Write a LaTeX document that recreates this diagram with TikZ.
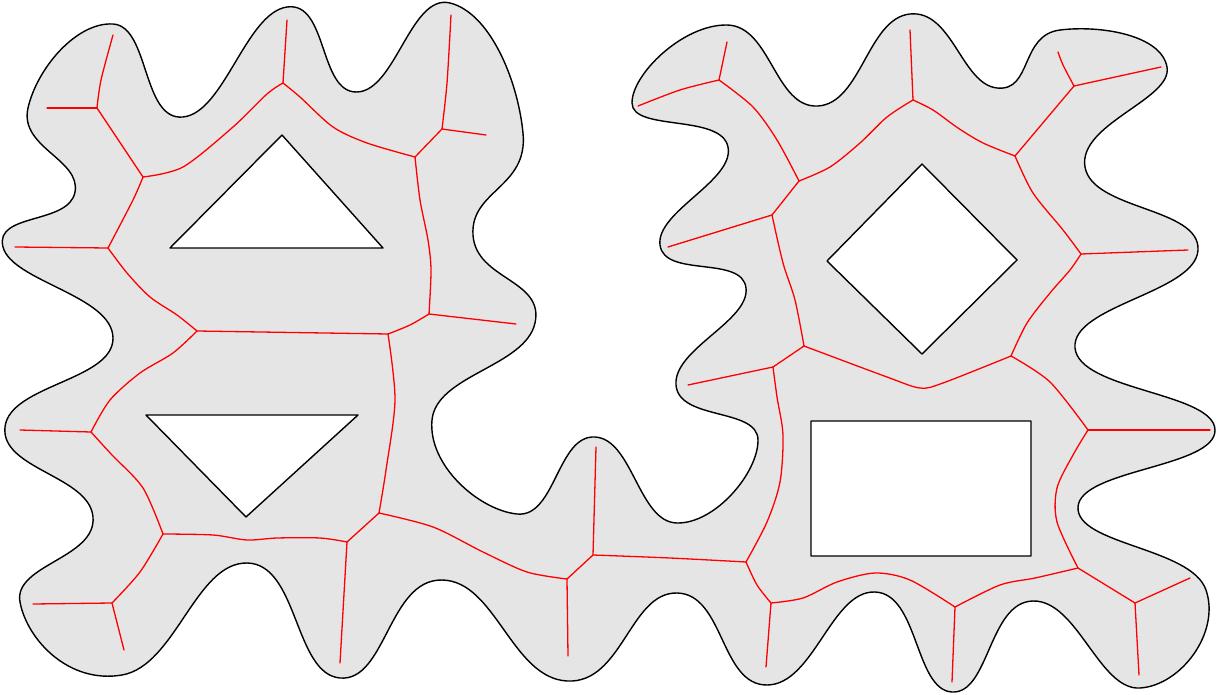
\documentclass[tikz,border=0pt]{standalone}
\usepackage{tikz}
\tikzset{
  region/.style={fill=gray!20, draw=black, line width=1.4pt, even odd rule, line join=round},
  skel/.style={draw=red, line width=1.3pt, line cap=round},
}

\begin{document}
\begin{tikzpicture}[x=1pt, y=-1pt]
  \useasboundingbox (0,0) rectangle (1223,695);

  % region with four holes
  \path[region]
    plot[smooth cycle, tension=0.85] coordinates {
      (28,108) (113,24) (183,117) (287,7) (357,92) (450,3) (523,133)
      (473,235) (535,323) (432,420) (517,514) (595,437) (677,523) (758,440)
      (676,385) (746,288) (660,245) (728,147) (632,103) (727,25) (818,106)
      (910,14) (997,88) (1060,30) (1167,67) (1085,167) (1198,250)
      (1075,348) (1215,430) (1078,507) (1206,590) (1140,688) (1033,601)
      (952,692) (875,592) (767,685) (677,593) (567,681) (442,580) (340,678)
      (247,563) (122,675) (20,602) (93,517) (5,427) (113,338) (3,247)
      (75,192)}
    (170,248) -- (282,135) -- (383,248) -- cycle
    (146,415) -- (358,415) -- (246,517) -- cycle
    (922,164) -- (1017,260) -- (922,354) -- (827,261) -- cycle
    (811,421) rectangle (1031,556);

  % junctions
  \coordinate (j1) at (97,108);
  \coordinate (j2) at (143,177);
  \coordinate (j3) at (283,83);
  \coordinate (j4) at (415,157);
  \coordinate (j5) at (442,129);
  \coordinate (j6) at (429,314);
  \coordinate (j7) at (388,334);
  \coordinate (j8) at (197,331);
  \coordinate (j9) at (108,248);
  \coordinate (j10) at (91,432);
  \coordinate (j11) at (163,534);
  \coordinate (j12) at (112,603);
  \coordinate (j13) at (347,542);
  \coordinate (j14) at (379,513);
  \coordinate (j15) at (567,579);
  \coordinate (j16) at (593,555);
  \coordinate (j17) at (746,562);
  \coordinate (j18) at (771,603);
  \coordinate (j19) at (955,607);
  \coordinate (j20) at (1078,568);
  \coordinate (j21) at (1135,603);
  \coordinate (j22) at (1088,430);
  \coordinate (j23) at (1011,356);
  \coordinate (j24) at (804,346);
  \coordinate (j25) at (1081,254);
  \coordinate (j26) at (1015,156);
  \coordinate (j27) at (1074,86);
  \coordinate (j28) at (913,100);
  \coordinate (j29) at (799,181);
  \coordinate (j30) at (719,80);
  \coordinate (j31) at (772,215);
  \coordinate (j32) at (773,367);

  % free ends
  \coordinate (t1) at (47,108);
  \coordinate (t2) at (113,35);
  \coordinate (t3) at (287,20);
  \coordinate (t4) at (451,15);
  \coordinate (t5) at (486,135);
  \coordinate (t6) at (516,324);
  \coordinate (t7) at (15,247);
  \coordinate (t8) at (20,430);
  \coordinate (t9) at (33,604);
  \coordinate (t10) at (124,650);
  \coordinate (t11) at (340,663);
  \coordinate (t12) at (568,656);
  \coordinate (t13) at (596,447);
  \coordinate (t14) at (766,667);
  \coordinate (t15) at (952,682);
  \coordinate (t16) at (1190,578);
  \coordinate (t17) at (1139,675);
  \coordinate (t18) at (1210,430);
  \coordinate (t19) at (1188,250);
  \coordinate (t20) at (1058,52);
  \coordinate (t21) at (1161,67);
  \coordinate (t22) at (910,30);
  \coordinate (t23) at (727,42);
  \coordinate (t24) at (638,106);
  \coordinate (t25) at (668,247);
  \coordinate (t26) at (688,385);

  % skeleton, left part
  \draw[skel] (j1) -- (t1);
  \draw[skel] plot[smooth] coordinates {(j1) (101,80) (t2)};
  \draw[skel] (j1) -- (j2);
  \draw[skel] plot[smooth] coordinates {(j2) (183,167) (233,127) (267,94) (j3)};
  \draw[skel] (j3) -- (t3);
  \draw[skel] plot[smooth] coordinates {(j3) (300,97) (333,127) (367,143) (j4)};
  \draw[skel] (j4) -- (j5);
  \draw[skel] plot[smooth] coordinates {(j5) (447,83) (t4)};
  \draw[skel] (j5) -- (t5);
  \draw[skel] plot[smooth] coordinates {(j4) (420,200) (428,240) (431,270) (j6)};
  \draw[skel] (j6) -- (t6);
  \draw[skel] plot[smooth] coordinates {(j6) (410,325) (j7)};
  \draw[skel] (j7) -- (j8);
  \draw[skel] plot[smooth] coordinates {(j2) (133,200) (j9)};
  \draw[skel] (j9) -- (t7);
  \draw[skel] plot[smooth] coordinates {(j9) (127,273) (150,297) (177,315) (j8)};
  \draw[skel] plot[smooth] coordinates {(j8) (173,353) (140,373) (110,400) (j10)};
  \draw[skel] (j10) -- (t8);
  \draw[skel] plot[smooth] coordinates {(j10) (112,455) (143,488) (j11)};
  \draw[skel] plot[smooth] coordinates {(j11) (140,572) (j12)};
  \draw[skel] (j12) -- (t9);
  \draw[skel] (j12) -- (t10);
  \draw[skel] plot[smooth] coordinates {(j11) (213,535) (247,540) (277,538) (320,538) (j13)};
  \draw[skel] (j13) -- (t11);
  \draw[skel] (j13) -- (j14);
  \draw[skel] plot[smooth] coordinates {(j14) (386,470) (395,400) (j7)};
  \draw[skel] plot[smooth] coordinates {(j14) (433,527) (483,552) (527,572) (j15)};
  \draw[skel] (j15) -- (t12);
  \draw[skel] (j15) -- (j16);
  \draw[skel] (j16) -- (t13);
  \draw[skel] plot[smooth] coordinates {(j16) (670,558) (j17)};

  % skeleton, right part
  \draw[skel] plot[smooth] coordinates {(j17) (757,585) (j18)};
  \draw[skel] (j18) -- (t14);
  \draw[skel] plot[smooth] coordinates {(j18) (803,598) (837,582) (875,573) (910,580) (j19)};
  \draw[skel] (j19) -- (t15);
  \draw[skel] plot[smooth] coordinates {(j19) (1000,585) (1035,578) (j20)};
  \draw[skel] (j20) -- (j21);
  \draw[skel] (j21) -- (t16);
  \draw[skel] (j21) -- (t17);
  \draw[skel] plot[smooth] coordinates {(j20) (1057,522) (1057,488) (1073,455) (j22)};
  \draw[skel] (j22) -- (t18);
  \draw[skel] plot[smooth] coordinates {(j22) (1050,382) (j23)};
  \draw[skel] plot[smooth] coordinates {(j23) (943,383) (920,388) (887,377) (j24)};
  \draw[skel] plot[smooth] coordinates {(j23) (1027,323) (1050,293) (1070,270) (j25)};
  \draw[skel] (j25) -- (t19);
  \draw[skel] plot[smooth] coordinates {(j25) (1063,230) (1033,193) (j26)};
  \draw[skel] (j26) -- (j27);
  \draw[skel] plot[smooth] coordinates {(j27) (1063,65) (t20)};
  \draw[skel] (j27) -- (t21);
  \draw[skel] plot[smooth] coordinates {(j26) (983,143) (958,128) (933,110) (j28)};
  \draw[skel] (j28) -- (t22);
  \draw[skel] plot[smooth] coordinates {(j28) (887,117) (860,143) (830,167) (j29)};
  \draw[skel] plot[smooth] coordinates {(j29) (777,140) (753,107) (j30)};
  \draw[skel] (j30) -- (t23);
  \draw[skel] plot[smooth] coordinates {(j30) (680,90) (t24)};
  \draw[skel] (j29) -- (j31);
  \draw[skel] (j31) -- (t25);
  \draw[skel] plot[smooth] coordinates {(j31) (783,263) (795,300) (j24)};
  \draw[skel] (j24) -- (j32);
  \draw[skel] (j32) -- (t26);
  \draw[skel] plot[smooth] coordinates {(j32) (777,397) (783,435) (780,482) (767,522) (j17)};
\end{tikzpicture}
\end{document}
